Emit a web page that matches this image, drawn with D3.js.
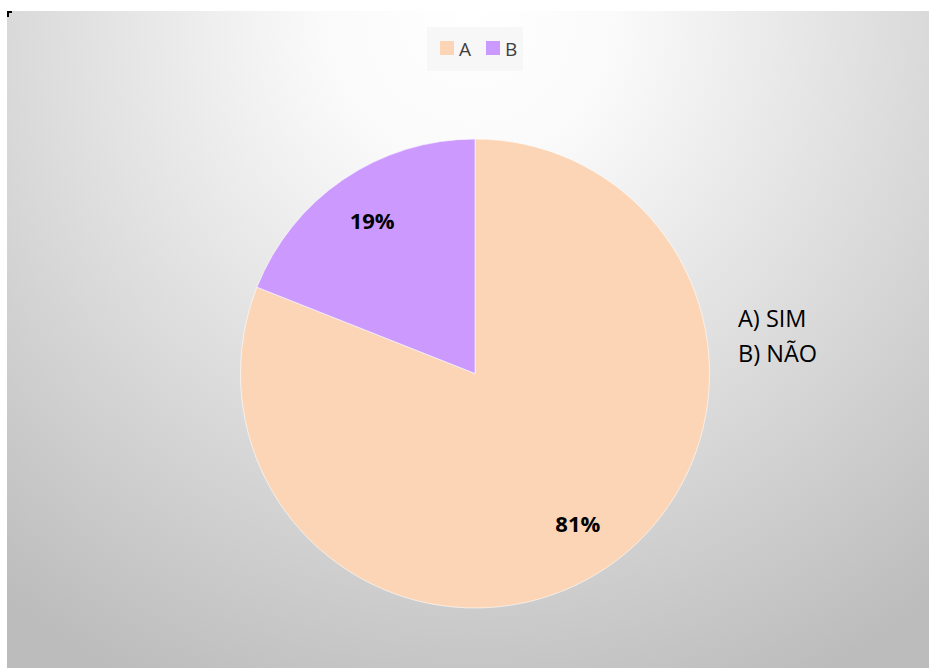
<!DOCTYPE html>
<html>
<head>
<meta charset="utf-8">
<script src="https://cdn.jsdelivr.net/npm/d3@7.9.0/dist/d3.min.js"></script>
<style>
  body { margin: 0; background: #fff; }
  svg { display: block; }
</style>
</head>
<body>
<svg id="chart" width="929" height="668"></svg>
<script>
// chart data
const categories = ["A", "B"];
const values = [81, 19];
const pctLabels = ["81%", "19%"];
const colorList = ["#fbd5b5", "#cc99ff"];
const notes = ["A) SIM", "B) NÃO"];

const svg = d3.select("#chart");
const W = 929, H = 668;

// background gradient (white at top centre, grey towards edges)
const defs = svg.append("defs");
const grad = defs.append("radialGradient")
  .attr("id", "bg")
  .attr("gradientUnits", "userSpaceOnUse")
  .attr("cx", 470).attr("cy", 20)
  .attr("r", 740);
grad.append("stop").attr("offset", "0").attr("stop-color", "#ffffff");
grad.append("stop").attr("offset", "0.2").attr("stop-color", "#fafafa");
grad.append("stop").attr("offset", "1").attr("stop-color", "#bcbcbc");

svg.append("rect")
  .attr("x", 7).attr("y", 11)
  .attr("width", W - 7).attr("height", H - 11)
  .attr("fill", "url(#bg)");

// little corner mark at top-left
svg.append("path")
  .attr("d", "M8,17 V12 H12")
  .attr("fill", "none")
  .attr("stroke", "#000")
  .attr("stroke-width", 2);

// pie
const cx = 475, cy = 373.5, R = 234.5;
const color = d3.scaleOrdinal().domain(categories).range(colorList);
const pie = d3.pie().sort(null).value(d => d.value);
const data = categories.map((c, i) => ({ cat: c, value: values[i], label: pctLabels[i] }));
const arcs = pie(data);
const arc = d3.arc().innerRadius(0).outerRadius(R);
const labelArc = d3.arc().innerRadius(R * 0.78).outerRadius(R * 0.78);

const g = svg.append("g").attr("transform", `translate(${cx},${cy})`);
g.selectAll("path")
  .data(arcs)
  .join("path")
  .attr("d", arc)
  .attr("fill", d => color(d.data.cat))
  .attr("stroke", "#ffffff")
  .attr("stroke-width", 0.6);

g.selectAll("text")
  .data(arcs)
  .join("text")
  .attr("transform", d => `translate(${labelArc.centroid(d)})`)
  .attr("text-anchor", "middle")
  .attr("dy", "0.32em")
  .attr("font-family", "'Open Sans', 'Liberation Sans', sans-serif")
  .attr("font-size", 22)
  .attr("font-weight", "bold")
  .attr("fill", "#000")
  .text(d => d.data.label);

// legend box
const legend = svg.append("g");
legend.append("rect")
  .attr("x", 427).attr("y", 27)
  .attr("width", 96).attr("height", 44)
  .attr("fill", "#f7f7f7");
const legendX = [440, 486];
categories.forEach((c, i) => {
  legend.append("rect")
    .attr("x", legendX[i]).attr("y", 41)
    .attr("width", 14).attr("height", 14)
    .attr("fill", color(c));
  legend.append("text")
    .attr("x", legendX[i] + 19).attr("y", 56)
    .attr("font-family", "'Open Sans', 'Liberation Sans', sans-serif")
    .attr("font-size", 19)
    .attr("fill", "#404040")
    .text(c);
});

// side notes
svg.selectAll(".note")
  .data(notes)
  .join("text")
  .attr("class", "note")
  .attr("x", 738)
  .attr("y", (d, i) => 327 + i * 35)
  .attr("font-family", "'Open Sans', 'Liberation Sans', sans-serif")
  .attr("font-size", 23.5)
  .attr("fill", "#000")
  .text(d => d);
</script>
</body>
</html>
